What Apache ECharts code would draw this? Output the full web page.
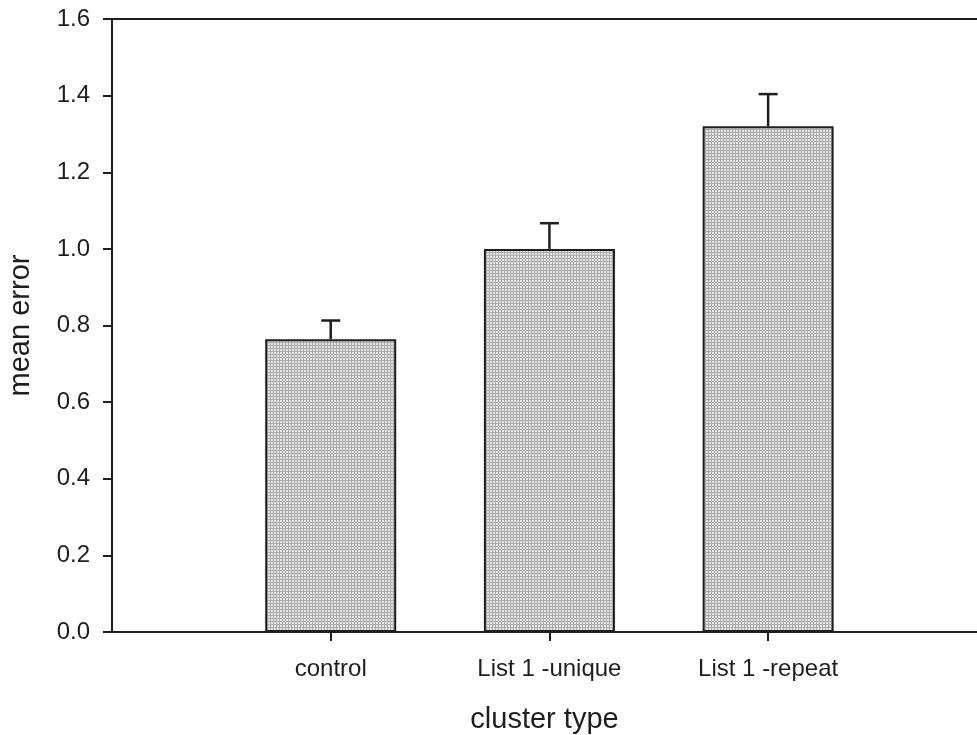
<!DOCTYPE html>
<html><head><meta charset="utf-8">
<script src="https://cdn.jsdelivr.net/npm/echarts@6/dist/echarts.min.js"></script>
<style>html,body{margin:0;padding:0;background:#fff}#c{width:977px;height:735px}</style>
</head><body><div id="c"></div>
<script>
const categories = ['control', 'List 1 -unique', 'List 1 -repeat'];
const positions = [1, 2, 3];
const means = [0.764, 1.0, 1.32];
const upperErr = [0.813, 1.067, 1.404];
const yTicks = [0, 0.2, 0.4, 0.6, 0.8, 1.0, 1.2, 1.4, 1.6];

const FONT = '"Liberation Sans", Arial, sans-serif';
const INK = '#1e1e1e';

const tile = document.createElement('canvas');
tile.width = 3; tile.height = 3;
const tc = tile.getContext('2d');
tc.fillStyle = '#e2e2e2'; tc.fillRect(0, 0, 3, 3);
tc.fillStyle = '#adadad'; tc.fillRect(0, 0, 3, 1); tc.fillRect(0, 0, 1, 3);

const chart = echarts.init(document.getElementById('c'), null, {renderer: 'canvas'});
chart.setOption({
  animation: false,
  grid: {left: 112, right: 0, top: 19, bottom: 103, containLabel: false, outerBoundsMode: 'none'},
  xAxis: [{
    type: 'value', min: 0, max: 3.955, position: 'bottom',
    splitLine: {show: false},
    axisLine: {show: true, onZero: false, lineStyle: {color: INK, width: 2}},
    axisTick: {show: true, customValues: positions, length: 9, lineStyle: {color: INK, width: 2}},
    axisLabel: {show: true, customValues: positions, margin: 25, fontSize: 24, color: INK, fontFamily: FONT,
      formatter: v => categories[positions.indexOf(v)] || ''},
    name: 'cluster type', nameLocation: 'middle', nameGap: 73,
    nameTextStyle: {fontSize: 29, color: INK, fontFamily: FONT}
  }, {
    type: 'value', min: 0, max: 3.955, position: 'top',
    splitLine: {show: false},
    axisLine: {show: true, onZero: false, lineStyle: {color: INK, width: 2}},
    axisTick: {show: false}, axisLabel: {show: false}
  }],
  yAxis: {
    type: 'value', min: 0, max: 1.6, interval: 0.2,
    splitLine: {show: false},
    axisLine: {show: true, lineStyle: {color: INK, width: 2}},
    axisTick: {show: true, length: 9, lineStyle: {color: INK, width: 2}},
    axisLabel: {margin: 22, fontSize: 24, color: INK, fontFamily: FONT, formatter: v => v.toFixed(1)},
    name: 'mean error', nameLocation: 'middle', nameGap: 77,
    nameTextStyle: {fontSize: 29, color: INK, fontFamily: FONT}
  },
  series: [{
    type: 'bar',
    barWidth: 131,
    data: positions.map((p, i) => [p, means[i]]),
    itemStyle: {color: {image: tile, repeat: 'repeat'}, borderColor: INK, borderWidth: 2},
    z: 2
  }, {
    type: 'custom',
    data: positions.map((p, i) => [p, means[i], upperErr[i]]),
    renderItem: (params, api) => {
      const base = api.coord([api.value(0), api.value(1)]);
      const top = api.coord([api.value(0), api.value(2)]);
      const s = {stroke: INK, lineWidth: 2.5};
      return {type: 'group', children: [
        {type: 'line', shape: {x1: base[0], y1: base[1], x2: top[0], y2: top[1]}, style: s},
        {type: 'line', shape: {x1: top[0] - 9.5, y1: top[1], x2: top[0] + 9.5, y2: top[1]}, style: s}
      ]};
    },
    z: 3
  }]
});
</script></body></html>
